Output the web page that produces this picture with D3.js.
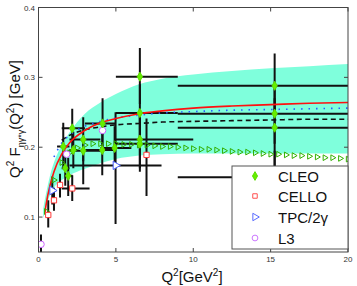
<!DOCTYPE html>
<html><head><meta charset="utf-8">
<script src="https://cdn.jsdelivr.net/npm/d3@7"></script>
<style>
html,body{margin:0;padding:0;background:#fff;}
svg{display:block;font-family:"Liberation Sans",Arial,Helvetica,sans-serif;}
</style></head>
<body>
<svg id="c" width="357" height="286"></svg>
<script>
// ---- data ----
const xTicks = [0, 5, 10, 15, 20];
const yTicks = [0.1, 0.2, 0.3, 0.4];
const yTickLabels = ["0.1", "0.2", "0.3", "0.4"];

// theory band (Q^2, upper, lower)
const bandQ2 = [0.3, 0.5, 0.75, 1, 1.5, 2, 2.5, 3, 4, 5, 6.5, 8, 10, 12.5, 15, 17.5, 20];
const bandUpper = [0.112, 0.135, 0.160, 0.178, 0.203, 0.221, 0.236, 0.248, 0.264, 0.276, 0.290, 0.298, 0.304, 0.309, 0.313, 0.316, 0.319];
const bandLower = [0.098, 0.115, 0.132, 0.142, 0.153, 0.160, 0.165, 0.169, 0.177, 0.183, 0.188, 0.190, 0.191, 0.191, 0.191, 0.191, 0.191];

// red solid curve
const redQ2 = [0.4, 0.5, 0.75, 1, 1.5, 2, 3, 4, 5, 6.5, 8, 10, 12.5, 15, 17.5, 20];
const redVals = [0.104, 0.119, 0.146, 0.165, 0.190, 0.206, 0.224, 0.235, 0.241, 0.248, 0.252, 0.256, 0.259, 0.261, 0.263, 0.264];
// blue dotted curve
const blueQ2 = [1, 1.5, 2, 3, 4, 5, 6.5, 8, 10, 12.5, 15, 17.5, 20];
const blueVals = [0.186, 0.206, 0.217, 0.230, 0.237, 0.242, 0.246, 0.249, 0.251, 0.253, 0.254, 0.255, 0.256];
// black dashed curve
const dashQ2 = [1.5, 2, 3, 4, 5, 6.5, 8, 10, 12.5, 15, 17.5, 20];
const dashVals = [0.210, 0.217, 0.225, 0.229, 0.232, 0.234, 0.236, 0.237, 0.238, 0.239, 0.240, 0.240];
// green triangle markers curve
const triQ2 = [0.5,1,1.5,2,2.5,3,3.5,4,4.5,5,5.5,6,6.5,7,7.5,8,8.5,9,9.5,10,10.5,11,11.5,12,12.5,13,13.5,14,14.5,15,15.5,16,16.5,17,17.5,18,18.5,19,19.5,20];
const triVals = [0.108,0.153,0.178,0.192,0.199,0.203,0.205,0.205,0.205,0.205,0.204,0.204,0.203,0.203,0.202,0.201,0.201,0.200,0.199,0.198,0.197,0.197,0.196,0.195,0.194,0.193,0.193,0.192,0.191,0.190,0.190,0.189,0.188,0.188,0.187,0.186,0.185,0.185,0.184,0.183];

// data points: [Q2, value, Q2low, Q2high, valueLow, valueHigh]
const cleo = [
  [1.60,0.201,1.2,2.0,0.170,0.235],
  [1.73,0.170,1.5,2.0,0.145,0.195],
  [1.92,0.159,1.7,2.2,0.130,0.185],
  [2.18,0.227,1.5,3.0,0.195,0.255],
  [2.25,0.196,2.0,2.5,0.170,0.222],
  [2.89,0.211,2.0,4.0,0.180,0.243],
  [2.89,0.195,2.0,4.0,0.147,0.215],
  [4.14,0.234,3.0,5.0,0.200,0.270],
  [4.12,0.196,3.0,5.0,0.160,0.230],
  [4.92,0.199,4.0,6.0,0.170,0.230],
  [6.55,0.301,5.0,9.0,0.262,0.342],
  [6.55,0.249,5.0,9.0,0.210,0.290],
  [6.55,0.211,5.0,10.0,0.170,0.250],
  [6.55,0.205,5.0,9.0,0.165,0.245],
  [15.26,0.288,9.0,20.0,0.245,0.334],
  [15.26,0.248,9.0,20.0,0.205,0.290],
  [15.26,0.228,9.0,20.0,0.170,0.270]
];
const cello = [
  [0.63,0.103,0.55,0.72,0.085,0.124],
  [1.00,0.124,0.88,1.12,0.109,0.142],
  [1.39,0.146,1.25,1.55,0.128,0.162],
  [2.18,0.141,1.5,3.3,0.123,0.160],
  [6.98,0.189,6.98,6.98,0.130,0.241]
];
const tpc = [
  [0.89,0.138,0.89,0.89,0.118,0.158],
  [4.98,0.174,2.0,7.95,0.090,0.250],
  [15.26,0.157,9.0,20.0,0.120,0.195]
];
const l3 = [
  [0.16,0.061,0.16,0.16,0.048,0.075],
  [1.82,0.190,1.82,1.82,0.190,0.190],
  [4.14,0.224,4.14,4.14,0.224,0.224]
];
const legendLabels = ["CLEO", "CELLO", "TPC/2\u03B3", "L3"];

// ---- drawing ----
const svg = d3.select("#c");
const L = 38.5, R = 348, T = 7.5, B = 252;
const x = d3.scaleLinear().domain([0, 20]).range([L, R]);
const y = d3.scaleLinear().domain([0.05, 0.4]).range([B, T]);

svg.append("defs").append("clipPath").attr("id", "clip")
  .append("rect").attr("x", L).attr("y", T).attr("width", R - L).attr("height", B - T);
const g = svg.append("g").attr("clip-path", "url(#clip)");

// band
const bandData = bandQ2.map((q, i) => ({q, u: bandUpper[i], l: bandLower[i]}));
g.append("path").datum(bandData)
  .attr("d", d3.area().x(d => x(d.q)).y0(d => y(d.l)).y1(d => y(d.u)).curve(d3.curveMonotoneX))
  .attr("fill", "#7fffdc").attr("stroke", "none");

// error bars
function errBars(data) {
  data.forEach(d => {
    if (d[3] > d[2]) g.append("line").attr("x1", x(d[2])).attr("x2", x(d[3])).attr("y1", y(d[1])).attr("y2", y(d[1]))
      .attr("stroke", "#111").attr("stroke-width", 2);
    if (d[5] > d[4]) g.append("line").attr("x1", x(d[0])).attr("x2", x(d[0])).attr("y1", y(d[4])).attr("y2", y(d[5]))
      .attr("stroke", "#111").attr("stroke-width", 2);
  });
}
errBars(cleo); errBars(cello); errBars(tpc); errBars(l3);

// curves
const line = d3.line().x(d => x(d[0])).y(d => y(d[1])).curve(d3.curveMonotoneX);
g.append("path").datum(dashQ2.map((q, i) => [q, dashVals[i]])).attr("d", line)
  .attr("fill", "none").attr("stroke", "#111").attr("stroke-width", 1.6).attr("stroke-dasharray", "5,3.5");
g.append("path").datum(blueQ2.map((q, i) => [q, blueVals[i]])).attr("d", line)
  .attr("fill", "none").attr("stroke", "#2a5cff").attr("stroke-width", 1.6).attr("stroke-dasharray", "1.5,6");
g.append("path").datum(redQ2.map((q, i) => [q, redVals[i]])).attr("d", line)
  .attr("fill", "none").attr("stroke", "#ff1010").attr("stroke-width", 1.6);

// green triangles
const triSym = d3.symbol().type(d3.symbolTriangle).size(14);
g.selectAll(".tri").data(triQ2.map((q, i) => [q, triVals[i]])).enter().append("path")
  .attr("d", triSym).attr("transform", d => `translate(${x(d[0])},${y(d[1])}) rotate(90)`)
  .attr("fill", "none").attr("stroke", "#33b000").attr("stroke-width", 1);

// markers
const diamond = d3.symbol().type(d3.symbolDiamond).size(24);
const square = d3.symbol().type(d3.symbolSquare).size(28);
const triR = d3.symbol().type(d3.symbolTriangle).size(30);
const circ = d3.symbol().type(d3.symbolCircle).size(34);
function markers(data, sym, fill, stroke, rot) {
  g.selectAll(null).data(data).enter().append("path").attr("d", sym)
    .attr("transform", d => `translate(${x(d[0])},${y(d[1])})` + (rot ? ` rotate(${rot})` : ""))
    .attr("fill", fill).attr("stroke", stroke).attr("stroke-width", 1);
}
markers(cello, square, "#fff", "#ff3a3a", 0);
markers(tpc, triR, "#fff", "#4a5cff", 90);
markers(l3, circ, "#fff", "#cc66ff", 0);
markers(cleo, diamond, "#66ee00", "#5de000", 0);

// frame
svg.append("rect").attr("x", L).attr("y", T).attr("width", R - L).attr("height", B - T)
  .attr("fill", "none").attr("stroke", "#444").attr("stroke-width", 1);

// ticks
const tk = 4;
xTicks.forEach(t => {
  svg.append("line").attr("x1", x(t)).attr("x2", x(t)).attr("y1", B).attr("y2", B - tk).attr("stroke", "#444");
  svg.append("line").attr("x1", x(t)).attr("x2", x(t)).attr("y1", T).attr("y2", T + tk).attr("stroke", "#444");
  svg.append("text").attr("x", x(t)).attr("y", 262).attr("text-anchor", "middle")
    .attr("font-size", 8).attr("fill", "#333").text(t);
});
yTicks.forEach((t, i) => {
  svg.append("line").attr("x1", L).attr("x2", L + tk).attr("y1", y(t)).attr("y2", y(t)).attr("stroke", "#444");
  svg.append("line").attr("x1", R).attr("x2", R - tk).attr("y1", y(t)).attr("y2", y(t)).attr("stroke", "#444");
  svg.append("text").attr("x", 35).attr("y", y(t) + 3).attr("text-anchor", "end")
    .attr("font-size", 8).attr("fill", "#333").text(yTickLabels[i]);
});

// axis labels
const xl = svg.append("text").attr("x", 192).attr("y", 282).attr("text-anchor", "middle").attr("font-size", 15).attr("fill", "#111");
xl.append("tspan").text("Q");
xl.append("tspan").attr("font-size", 10).attr("dy", -6).text("2");
xl.append("tspan").attr("dy", 6).text("[GeV");
xl.append("tspan").attr("font-size", 10).attr("dy", -6).text("2");
xl.append("tspan").attr("dy", 6).text("]");

const yl = svg.append("text").attr("transform", "translate(20,119) rotate(-90)").attr("text-anchor", "middle")
  .attr("font-size", 15).attr("fill", "#111");
yl.append("tspan").text("Q");
yl.append("tspan").attr("font-size", 10).attr("dy", -6).text("2");
yl.append("tspan").attr("dy", 6).text(" F");
yl.append("tspan").attr("font-size", 9).attr("dy", 4).text("\u03B7\u03B3*\u03B3");
yl.append("tspan").attr("dy", -4).text("(Q");
yl.append("tspan").attr("font-size", 10).attr("dy", -6).text("2");
yl.append("tspan").attr("dy", 6).text(") [GeV]");

// legend
const lg = svg.append("g");
lg.append("rect").attr("x", 232).attr("y", 166).attr("width", 116).attr("height", 83)
  .attr("fill", "#fff").attr("stroke", "#555").attr("stroke-width", 1);
const legSyms = [
  {sym: d3.symbol().type(d3.symbolDiamond).size(22), fill: "#66ee00", stroke: "#5de000", rot: 0},
  {sym: d3.symbol().type(d3.symbolSquare).size(20), fill: "#fff", stroke: "#ff5050", rot: 0},
  {sym: d3.symbol().type(d3.symbolTriangle).size(24), fill: "#fff", stroke: "#5a6cff", rot: 90},
  {sym: d3.symbol().type(d3.symbolCircle).size(26), fill: "#fff", stroke: "#cc77ff", rot: 0}
];
const rowsY = [176, 196, 217, 238];
legendLabels.forEach((lab, i) => {
  const s = legSyms[i];
  lg.append("path").attr("d", s.sym).attr("transform", `translate(255,${rowsY[i]}) rotate(${s.rot})`)
    .attr("fill", s.fill).attr("stroke", s.stroke).attr("stroke-width", 1);
  lg.append("text").attr("x", 278).attr("y", rowsY[i] + 5.5).attr("font-size", 15).attr("fill", "#111").text(lab);
});
</script>
</body></html>
